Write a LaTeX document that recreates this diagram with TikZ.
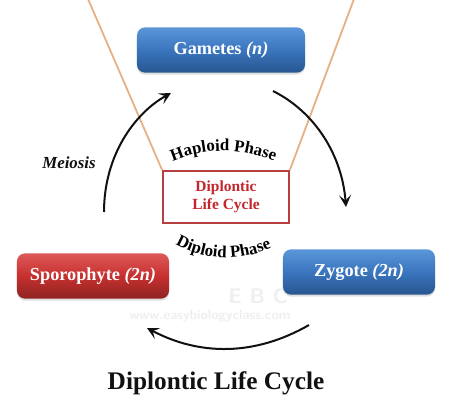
\documentclass[tikz,border=0pt]{standalone}
\usepackage{fontspec}
\setmainfont{Liberation Serif}
\usetikzlibrary{arrows.meta,decorations.text,shadows}
\definecolor{dlInk}{HTML}{111111}
\definecolor{dlBlueTop}{HTML}{5A96D8}
\definecolor{dlBlueMid}{HTML}{3A75BE}
\definecolor{dlBlueLow}{HTML}{28568F}
\definecolor{dlRedTop}{HTML}{DE5A58}
\definecolor{dlRedMid}{HTML}{C6302F}
\definecolor{dlRedLow}{HTML}{8E2422}
\definecolor{dlFrame}{HTML}{B5403F}
\definecolor{dlCrimson}{HTML}{C2272D}
\definecolor{dlOrange}{HTML}{E6B184}
\definecolor{dlMark}{HTML}{EFEFEF}
\tikzset{
  dl box/.style={
    rounded corners=2mm,
    minimum width=3.8cm,
    minimum height=1.13cm,
    inner sep=0pt,
    font=\bfseries\fontsize{13}{15}\selectfont,
    text=white,
    drop shadow={opacity=.25, shadow xshift=0pt, shadow yshift=-.5mm}
  },
  dl blue/.style={
    dl box,
    top color=dlBlueTop,
    bottom color=dlBlueLow,
    middle color=dlBlueMid
  },
  dl red/.style={
    dl box,
    top color=dlRedTop,
    bottom color=dlRedLow,
    middle color=dlRedMid
  },
  dl arrow/.style={
    draw=dlInk,
    line width=.5mm,
    -{Stealth[length=3mm,width=3mm,inset=1.4mm]}
  },
  dl funnel/.style={draw=dlOrange, line width=.45mm},
  dl phase/.style={
    postaction={decorate},
    decoration={text along path, text align=center,
      text={|\bfseries\fontsize{12}{14}\selectfont|#1}}
  },
  dl center/.style={
    draw=dlFrame, fill=white, line width=.4mm,
    minimum width=3.15cm, minimum height=1.3cm,
    align=center, inner sep=0pt,
    font=\bfseries\fontsize{11}{12.5}\selectfont, text=dlCrimson
  },
  dl label/.style={font=\bfseries\itshape\fontsize{12}{14}\selectfont, text=dlInk},
  dl title/.style={font=\bfseries\fontsize{18}{20}\selectfont, text=dlInk},
  dl mark/.style={font=\bfseries\sffamily\fontsize{9.5}{11}\selectfont, text=dlMark}
}
\begin{document}
\begin{tikzpicture}[x=.025cm,y=-.025cm]
  \useasboundingbox[fill=white] (0,0) rectangle (452,414);

  % watermark
  \node[dl mark] (markSite) at (210,316) {www.easybiologyclass.com};
  \node[dl mark, font=\bfseries\sffamily\fontsize{15}{17}\selectfont] (markLogo) at (258,296) {E B C};

  % funnel behind the boxes
  \coordinate (funnelLeft) at (88,-1);
  \coordinate (funnelRight) at (354,-1);
  \node[dl center] (cycle) at (226,197) {Diplontic\\Life Cycle};
  \draw[dl funnel] (funnelLeft) -- (cycle.north west);
  \draw[dl funnel] (funnelRight) -- (cycle.north east);

  \node[dl blue, minimum width=4.2cm] (gametes) at (221,50) {Gametes \textit{(n)}};
  \node[dl blue] (zygote) at (359,272) {Zygote \textit{(2n)}};
  \node[dl red] (sporophyte) at (93,276) {Sporophyte \textit{(2n)}};

  % arrow ends
  \coordinate (meiosisA) at (104,212);
  \coordinate (meiosisB) at (171,93);
  \coordinate (fusionA) at (273,91);
  \coordinate (fusionB) at (346,207);
  \coordinate (growthA) at (309,325);
  \coordinate (growthB) at (147,328);
  \draw[dl arrow] (meiosisA) .. controls (104,155) and (135,113) .. (meiosisB);
  \draw[dl arrow] (fusionA) .. controls (315,112) and (342,155) .. (fusionB);
  \draw[dl arrow] (growthA) .. controls (255,356) and (200,356) .. (growthB);

  \node[dl label] (meiosis) at (69,163) {Meiosis};
  \path[dl phase=Haploid Phase] (169,163) .. controls (205,147) and (240,147) .. (278,163);
  \path[dl phase=Diploid Phase] (173,243) .. controls (205,262) and (240,262) .. (274,247);

  \node[dl title] (title) at (216,383) {Diplontic Life Cycle};
\end{tikzpicture}
\end{document}
